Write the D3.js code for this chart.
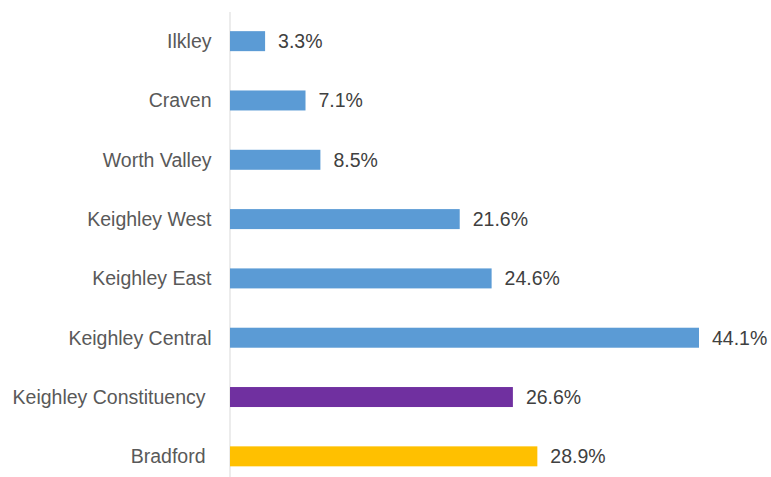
<!DOCTYPE html>
<html>
<head>
<meta charset="utf-8">
<script src="https://cdn.jsdelivr.net/npm/d3@7"></script>
<style>
  html, body { margin: 0; padding: 0; background: #fff; }
  svg { display: block; }
  text { font-family: "Liberation Sans", Arial, sans-serif; }
</style>
</head>
<body>
<svg id="chart" width="771" height="477"></svg>
<script>
const categories = ["Ilkley", "Craven", "Worth Valley", "Keighley West", "Keighley East", "Keighley Central", "Keighley Constituency", "Bradford"];
const values = [3.3, 7.1, 8.5, 21.6, 24.6, 44.1, 26.6, 28.9];
const valueLabels = ["3.3%", "7.1%", "8.5%", "21.6%", "24.6%", "44.1%", "26.6%", "28.9%"];
const barColors = ["#5B9BD5", "#5B9BD5", "#5B9BD5", "#5B9BD5", "#5B9BD5", "#5B9BD5", "#7030A0", "#FFC000"];
const labelOffsets = [0, 0, 0, 0, 0, 0, 6, 6];

const svg = d3.select("#chart");
const x = d3.scaleLinear().domain([0, 44.1]).range([230, 699]);
const y = d3.scaleBand().domain(categories).range([11.5, 486]).paddingInner(0.663).paddingOuter(0.3315);

const axis = d3.axisLeft(y).tickSize(0).tickSizeOuter(0).tickPadding(18);
const ag = svg.append("g").attr("transform", "translate(229.5,0)").call(axis);
ag.select(".domain").attr("stroke", "#D9D9D9").attr("stroke-width", 1);
ag.selectAll(".tick text")
  .attr("font-size", "19.5px")
  .attr("fill", "#595959")
  .attr("dy", "0.35em")
  .attr("x", (d, i) => -18 - labelOffsets[i]);

const data = categories.map((c, i) => ({ c, v: values[i], l: valueLabels[i], col: barColors[i] }));

svg.append("g").selectAll("rect").data(data).join("rect")
  .attr("x", x(0))
  .attr("y", d => y(d.c))
  .attr("width", d => x(d.v) - x(0))
  .attr("height", y.bandwidth())
  .attr("fill", d => d.col);

svg.append("g").selectAll("text").data(data).join("text")
  .attr("x", d => x(d.v) + 13)
  .attr("y", d => y(d.c) + y.bandwidth() / 2)
  .attr("dy", "0.35em")
  .attr("font-size", "19.5px")
  .attr("fill", "#404040")
  .text(d => d.l);
</script>
</body>
</html>
